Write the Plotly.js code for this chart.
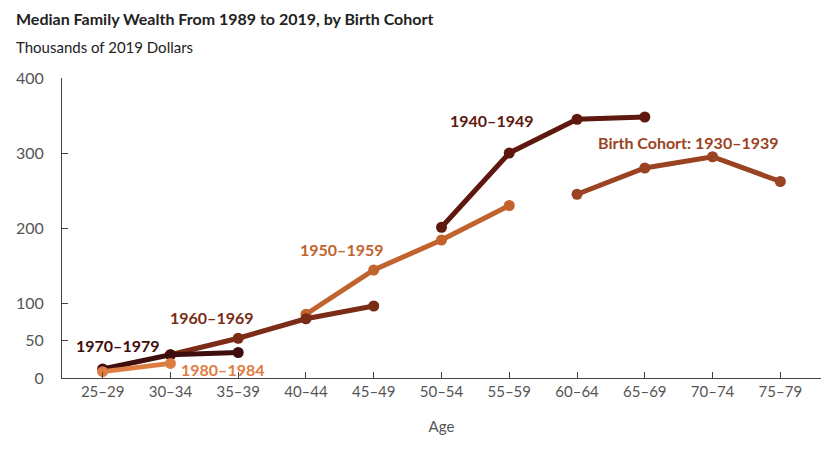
<!DOCTYPE html>
<html>
<head>
<meta charset="utf-8">
<script src="https://cdn.plot.ly/plotly-3.0.1.min.js"></script>
<style>html,body{margin:0;padding:0;background:#fff;}#chart{width:838px;height:450px;}</style>
</head>
<body>
<div id="chart"></div>
<script>
const ages = ["25–29","30–34","35–39","40–44","45–49","50–54","55–59","60–64","65–69","70–74","75–79"];

const ages1930 = ["60–64","65–69","70–74","75–79"];
const wealth1930 = [245, 280, 295, 262];

const ages1940 = ["50–54","55–59","60–64","65–69"];
const wealth1940 = [201, 300, 345, 348];

const ages1950 = ["40–44","45–49","50–54","55–59"];
const wealth1950 = [85, 144, 184, 230];

const ages1960 = ["30–34","35–39","40–44","45–49"];
const wealth1960 = [31, 53, 79, 96];

const ages1970 = ["25–29","30–34","35–39"];
const wealth1970 = [12, 31, 34];

const ages1980 = ["25–29","30–34"];
const wealth1980 = [8.5, 19.5];

const yTicks = [0, 50, 100, 200, 300, 400];

const colors = {
  c1930: "#9a4322",
  c1940: "#5e180e",
  c1950: "#c1632d",
  c1960: "#7a2c16",
  c1970: "#3f0d0d",
  c1980: "#de7d42"
};

function tr(x, y, color) {
  return {x: x, y: y, type: "scatter", mode: "lines+markers",
    line: {color: color, width: 5}, marker: {color: color, size: 11},
    hoverinfo: "skip", showlegend: false, cliponaxis: false};
}

const data = [
  tr(ages1950, wealth1950, colors.c1950),
  tr(ages1960, wealth1960, colors.c1960),
  tr(ages1940, wealth1940, colors.c1940),
  tr(ages1930, wealth1930, colors.c1930),
  tr(ages1970, wealth1970, colors.c1970),
  tr(ages1980, wealth1980, colors.c1980)
];

const fam = "Lato, 'Open Sans', sans-serif";
const lblFont = (c) => ({family: fam, size: 16, color: c});

function lbl(text, x, y, color, xanchor) {
  return {text: "<b>" + text + "</b>", x: x, y: y, xref: "x", yref: "y",
    showarrow: false, font: lblFont(color), xanchor: xanchor || "center", yanchor: "middle"};
}

const layout = {
  width: 838, height: 450,
  margin: {l: 62, r: 17, t: 78, b: 72},
  paper_bgcolor: "#fff", plot_bgcolor: "#fff",
  font: {family: fam, color: "#555"},
  xaxis: {
    type: "category", categoryorder: "array", categoryarray: ages,
    range: [-0.6, 10.6], showgrid: false, zeroline: false,
    showline: true, linecolor: "#444", linewidth: 1,
    ticks: "inside", ticklen: 6, tickcolor: "#444",
    tickfont: {size: 15, color: "#555"},
    title: {text: "Age", font: {size: 15, color: "#555"}, standoff: 22}
  },
  yaxis: {
    range: [0, 400], tickvals: yTicks, ticktext: yTicks.map(String),
    showgrid: false, zeroline: false,
    showline: true, linecolor: "#444", linewidth: 1,
    ticks: "inside", ticklen: 6, tickcolor: "#444",
    tickfont: {size: 16, color: "#555"}, ticklabelstandoff: 14
  },
  annotations: [
    {text: "<b>Median Family Wealth From 1989 to 2019, by Birth Cohort</b>", xref: "paper", yref: "paper",
      x: -48/759, y: 1 + 60/300, xanchor: "left", yanchor: "middle", showarrow: false,
      font: {family: fam, size: 16, color: "#222"}},
    {text: "Thousands of 2019 Dollars", xref: "paper", yref: "paper",
      x: -48/759, y: 1 + 31/300, xanchor: "left", yanchor: "middle", showarrow: false,
      font: {family: fam, size: 15, color: "#222"}},
    lbl("1970–1979", 0.23, 44, colors.c1970),
    lbl("1980–1984", 1.12, 12, colors.c1980, "left"),
    lbl("1960–1969", 1.62, 81, colors.c1960),
    lbl("1950–1959", 3.53, 172, colors.c1950),
    lbl("1940–1949", 5.74, 343, colors.c1940),
    lbl("Birth Cohort: 1930–1939", 8.64, 314, colors.c1930)
  ]
};

Plotly.newPlot("chart", data, layout, {staticPlot: true, displayModeBar: false});
</script>
</body>
</html>
